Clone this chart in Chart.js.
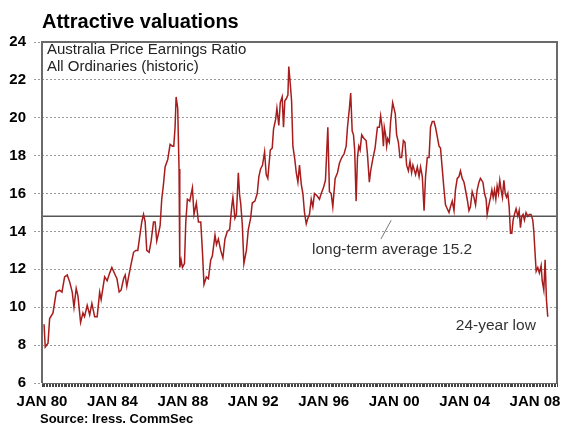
<!DOCTYPE html>
<html>
<head>
<meta charset="utf-8">
<script src="https://cdn.jsdelivr.net/npm/chart.js@4.4.1/dist/chart.umd.min.js"></script>
<style>
  html, body { margin: 0; padding: 0; background: #fff; }
  #wrap { position: relative; width: 563px; height: 423px; }
</style>
</head>
<body>
<div id="wrap"><canvas id="peChart" width="563" height="423"></canvas></div>
<script>
// months since Jan 1980
const months = [
  1.4, 2.2, 4.1, 5.2, 7.5, 9.7, 12.0, 13.6, 15.4, 17.2, 19.0, 20.6, 21.8, 23.3, 24.5, 26.3, 27.9, 29.0, 30.8, 32.5,
  34.0, 35.9, 37.6, 39.3, 40.3, 42.7, 44.4, 46.1, 47.6, 49.9, 51.1, 52.6, 53.9, 55.6, 56.7, 57.8, 59.0, 60.8, 62.4, 63.9,
  65.3, 66.9, 68.0, 69.2, 70.3, 71.4, 73.0, 74.4, 76.0, 77.1, 78.2, 79.4, 80.5, 81.6, 82.8, 83.9, 85.7, 87.3, 88.9, 89.8,
  90.7, 91.4, 92.5, 93.4, 93.9, 94.8, 95.7, 97.1, 98.0, 99.1, 100.7, 102.5, 103.6, 105.2, 106.6, 108.2, 109.3, 110.4, 112.0, 113.4,
  115.0, 116.1, 117.9, 118.9, 120.2, 121.8, 123.3, 124.7, 126.3, 127.9, 129.3, 130.1, 131.5, 132.5, 133.8, 134.7, 135.4, 136.5, 137.6, 139.3,
  140.6, 142.2, 143.3, 145.1, 146.7, 147.8, 149.0, 150.3, 151.7, 152.8, 153.9, 155.6, 156.9, 157.8, 159.2, 160.1, 161.4, 162.4, 163.7, 164.6,
  165.5, 166.5, 167.6, 168.2, 169.2, 170.1, 171.0, 172.3, 173.3, 174.4, 175.5, 176.7, 177.8, 178.9, 180.1, 181.2, 182.3, 183.5, 184.6, 185.7,
  187.3, 189.1, 190.3, 191.8, 193.2, 194.8, 195.9, 197.1, 198.2, 199.8, 201.4, 202.7, 204.3, 205.9, 207.3, 208.2, 209.5, 210.4, 211.4, 212.3,
  213.1, 214.1, 215.0, 215.9, 216.8, 217.9, 219.5, 220.9, 221.8, 223.1, 224.0, 225.4, 227.0, 228.6, 229.9, 230.8, 231.8, 232.7, 233.3, 234.2,
  234.9, 235.6, 236.7, 237.6, 239.0, 239.9, 240.8, 241.7, 242.9, 244.0, 245.1, 246.3, 247.4, 248.5, 249.7, 250.8, 251.9, 252.8, 254.6, 255.8,
  257.0, 258.0, 259.2, 260.4, 261.4, 262.6, 263.8, 264.8, 266.0, 267.2, 268.2, 269.4, 270.6, 271.6, 272.8, 274.0, 275.0, 276.2, 277.4, 278.4,
  279.6, 280.8, 281.8, 283.0, 284.2, 285.2, 286.4, 287.6, 288.6, 289.8, 291.0, 292.0, 293.2, 294.4, 295.5, 296.6, 297.8, 298.8, 300.5, 301.6,
  302.7, 303.4, 304.3, 305.7, 306.6, 307.5, 308.4, 309.3, 310.2, 311.1, 312.0, 312.9, 313.8, 314.8, 315.7, 316.6, 317.5, 318.4, 319.3, 320.2,
  321.1, 322.0, 323.1, 324.3, 325.2, 326.1, 327.0, 327.9, 328.8, 329.9, 331.1, 332.2, 333.3, 334.5, 335.2, 336.1, 336.8, 337.9, 339.0, 340.2,
  340.9, 342.0, 342.9, 343.8, 344.7
];

// price earnings ratio, All Ordinaries
const pe = [
  9.1, 7.9, 8.1, 9.4, 9.7, 10.8, 10.9, 10.8, 11.6, 11.7, 11.3, 10.8, 10.0, 11.0, 10.6, 9.2, 9.7, 9.5, 10.1, 9.6,
  10.2, 9.5, 9.5, 10.8, 10.4, 11.6, 11.4, 11.8, 12.1, 11.7, 11.5, 10.8, 10.9, 11.5, 11.7, 11.1, 11.6, 12.3, 12.9, 13.0,
  13.0, 13.9, 14.5, 14.9, 14.5, 13.0, 12.9, 13.5, 14.5, 14.5, 13.5, 13.9, 14.3, 15.7, 16.5, 17.4, 17.8, 18.6, 18.5, 18.5,
  19.5, 21.1, 20.5, 17.3, 12.1, 12.5, 12.1, 12.3, 14.5, 15.7, 15.6, 16.3, 14.9, 15.5, 14.5, 14.5, 13.0, 11.2, 11.6, 11.5,
  12.5, 12.7, 13.8, 13.3, 13.6, 13.0, 12.6, 13.6, 14.0, 14.1, 15.3, 15.8, 14.7, 14.9, 17.1, 15.9, 15.5, 14.4, 12.3, 13.0,
  14.1, 14.7, 15.5, 15.6, 16.0, 16.9, 17.3, 17.5, 18.2, 17.0, 16.8, 18.3, 18.4, 19.4, 19.9, 20.5, 19.6, 20.8, 21.1, 19.5,
  20.9, 21.0, 21.2, 22.7, 21.8, 20.9, 18.5, 17.8, 17.1, 16.6, 17.5, 16.5, 16.0, 15.0, 14.4, 14.7, 14.9, 15.7, 15.3, 16.0,
  15.9, 15.7, 16.0, 16.3, 16.7, 19.5, 16.1, 16.0, 15.3, 16.8, 17.1, 17.6, 17.9, 18.1, 18.5, 19.5, 20.5, 21.3, 19.3, 19.1,
  18.3, 15.6, 17.9, 18.5, 18.3, 19.1, 18.9, 18.8, 18.1, 16.6, 17.2, 17.8, 18.4, 19.5, 19.5, 20.1, 19.5, 18.5, 19.5, 19.1,
  18.5, 18.9, 18.7, 19.8, 20.8, 20.5, 20.2, 19.1, 18.7, 17.9, 17.9, 18.8, 18.7, 17.5, 17.2, 17.7, 17.1, 17.5, 17.0, 17.4,
  16.9, 17.4, 16.9, 15.1, 16.9, 17.9, 17.9, 19.5, 19.8, 19.8, 19.5, 19.0, 18.5, 18.4, 17.3, 16.2, 15.4, 15.2, 15.0, 15.3,
  15.6, 15.1, 16.2, 16.8, 16.9, 17.2, 16.8, 16.6, 16.2, 15.7, 15.1, 15.3, 16.1, 15.8, 15.4, 16.2, 16.6, 16.8, 16.6, 16.0,
  15.7, 14.9, 15.3, 15.8, 16.2, 15.8, 16.2, 15.7, 16.4, 16.0, 16.7, 16.2, 15.8, 16.7, 16.0, 15.8, 16.0, 15.3, 13.9, 13.9,
  14.6, 14.9, 15.2, 14.8, 15.1, 14.2, 14.8, 14.9, 14.6, 15.0, 14.8, 14.9, 14.9, 14.6, 14.0, 12.8, 11.9, 12.1, 11.8, 12.2,
  11.4, 10.9, 12.5, 10.4, 9.5
];

const avgLevel = 14.8;          // where the long-term average line is drawn
const lastMonth = 351;          // right edge of the axis
const yTicks = [6, 8, 10, 12, 14, 16, 18, 20, 22, 24];

const FONT = "'Liberation Sans', Arial, sans-serif";

const labelsPlugin = {
  id: 'labels',
  afterDraw(chart) {
    const { ctx, chartArea: a, scales } = chart;
    ctx.save();
    // plot frame
    ctx.strokeStyle = '#6a6a6a';
    ctx.lineWidth = 2;
    ctx.beginPath();
    ctx.moveTo(a.left, a.bottom);
    ctx.lineTo(a.left, a.top);
    ctx.lineTo(a.right, a.top);
    ctx.lineTo(a.right, a.bottom);
    ctx.stroke();
    ctx.lineWidth = 1;
    ctx.beginPath();
    ctx.moveTo(a.left, a.bottom + 0.5);
    ctx.lineTo(a.right, a.bottom + 0.5);
    ctx.stroke();

    ctx.fillStyle = '#000';
    ctx.textBaseline = 'middle';
    ctx.textAlign = 'left';
    ctx.font = 'bold 20px ' + FONT;
    ctx.fillText('Attractive valuations', 42, 22);

    ctx.fillStyle = '#222';
    ctx.font = '15px ' + FONT;
    ctx.fillText('Australia Price Earnings Ratio', 47, 50);
    ctx.fillText('All Ordinaries (historic)', 47, 67);

    const x = scales.x, y = scales.y;
    ctx.fillStyle = '#333';
    ctx.font = '15.5px ' + FONT;
    ctx.fillText('long-term average 15.2', x.getPixelForValue(184), y.getPixelForValue(13.05));
    ctx.fillText('24-year low', x.getPixelForValue(282), y.getPixelForValue(9.05));

    ctx.strokeStyle = '#777';
    ctx.lineWidth = 1;
    ctx.beginPath();
    ctx.moveTo(x.getPixelForValue(238), y.getPixelForValue(avgLevel) + 4);
    ctx.lineTo(x.getPixelForValue(231), y.getPixelForValue(13.6));
    ctx.stroke();

    ctx.fillStyle = '#000';
    ctx.font = 'bold 13px ' + FONT;
    ctx.fillText('Source: Iress, CommSec', 40, 419);
    ctx.restore();
  }
};

new Chart(document.getElementById('peChart'), {
  type: 'line',
  data: {
    datasets: [
      {
        data: months.map((m, i) => ({ x: m, y: pe[i] })),
        borderColor: '#a71c1c',
        borderWidth: 1.5,
        pointRadius: 0,
        tension: 0
      },
      {
        data: [{ x: 0, y: avgLevel }, { x: lastMonth, y: avgLevel }],
        borderColor: '#555',
        borderWidth: 1.5,
        pointRadius: 0
      }
    ]
  },
  options: {
    responsive: false,
    animation: false,
    devicePixelRatio: 1,
    layout: { padding: { top: 42, left: 0, right: 5, bottom: 0 } },
    plugins: { legend: { display: false }, tooltip: { enabled: false } },
    scales: {
      x: {
        type: 'linear',
        min: 0,
        max: lastMonth,
        afterFit: (s) => { s.height = 40; },
        ticks: {
          stepSize: 1,
          autoSkip: false,
          maxRotation: 0,
          padding: 6,
          color: '#000',
          font: { family: FONT, size: 15, weight: 'bold' },
          callback: (v) => {
            const m = Math.round(v);
            if (Math.abs(v - m) > 1e-6 || m % 48 !== 0) return '';
            const yr = (1980 + m / 12) % 100;
            return 'JAN ' + String(yr).padStart(2, '0');
          }
        },
        grid: { drawOnChartArea: false, tickLength: 4, tickColor: '#444', lineWidth: 1 },
        border: { display: false }
      },
      y: {
        min: 6,
        max: 24,
        afterFit: (s) => { s.width = 42; },
        afterBuildTicks: (s) => { s.ticks = yTicks.map(v => ({ value: v })); },
        ticks: {
          padding: 8,
          color: '#000',
          font: { family: FONT, size: 15, weight: 'bold' }
        },
        grid: { color: '#9a9a9a', lineWidth: 1, tickLength: 8, tickColor: '#9a9a9a', tickBorderDash: [2, 2] },
        border: { display: false, dash: [2, 2] }
      }
    }
  },
  plugins: [labelsPlugin]
});
</script>
</body>
</html>
